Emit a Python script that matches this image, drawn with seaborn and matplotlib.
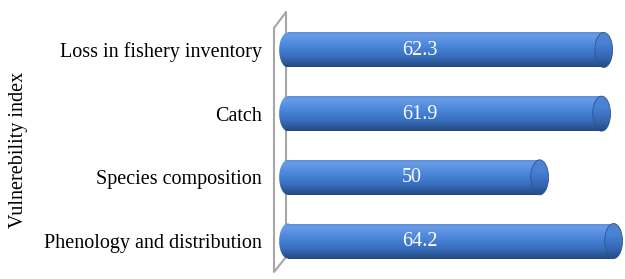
import numpy as np
import pandas as pd
import seaborn as sns
import matplotlib.pyplot as plt
from matplotlib.colors import LinearSegmentedColormap
from matplotlib.patches import Ellipse
from matplotlib.lines import Line2D

sns.set_style("white")
plt.rcParams['font.family'] = ['Liberation Serif', 'DejaVu Serif']
plt.rcParams['text.color'] = 'black'
plt.rcParams['ytick.labelcolor'] = 'black'

categories = ['Loss in fishery inventory', 'Catch', 'Species composition',
              'Phenology and distribution']
values = [62.3, 61.9, 50, 64.2]
value_labels = ['62.3', '61.9', '50', '64.2']
ylabel = 'Vulnerebility index'

df = pd.DataFrame({'factor': categories, 'index': values})

W, H = 625, 279
fig = plt.figure(figsize=(W / 100, H / 100), dpi=100)
ax = fig.add_axes([278 / W, 0, 347 / W, 1])

bar_h = 0.55
sns.barplot(data=df, y='factor', x='index', orient='h', width=bar_h,
            color='#4a86d6', ax=ax)

# cylinder shading, top -> bottom
cyl = LinearSegmentedColormap.from_list(
    'cyl', [(0, '#5b8cd8'), (0.12, '#6a9ce6'), (0.38, '#4d88dc'),
            (0.68, '#3a71c2'), (0.9, '#2b5696'), (1, '#22457a')])
cyl_end = LinearSegmentedColormap.from_list(
    'cyl_end', [(0, '#5284d0'), (0.35, '#4781d4'), (0.72, '#3566b2'),
                (1, '#26497f')])
grad = np.linspace(0, 1, 256).reshape(-1, 1)
cap = 1.7  # half width of the end ellipses, data units


def shade(patch, x0, x1, y0, h, cmap):
    im = ax.imshow(grad, cmap=cmap, aspect='auto', zorder=2,
                   extent=(x0, x1, y0 + h, y0), interpolation='bicubic')
    im.set_clip_path(patch)


for p, v, lab in zip(ax.patches, values, value_labels):
    y0, h = p.get_y(), p.get_height()
    yc = y0 + h / 2
    p.set_width(v - cap)
    p.set_facecolor('none')
    p.set_edgecolor('none')
    shade(p, 0, v, y0, h, cyl)

    left = Ellipse((0, yc), 2 * cap, h, facecolor='none', edgecolor='none',
                   clip_on=False)
    ax.add_patch(left)
    shade(left, -cap, cap, y0, h, cyl)

    right = Ellipse((v - cap, yc), 2 * cap, h, facecolor='none',
                    edgecolor='#2c5592', lw=0.6, zorder=3, clip_on=False)
    ax.add_patch(right)
    shade(right, v - 2 * cap, v, y0, h, cyl_end)

    ax.text(21.9, yc + 0.01, lab, color='white', ha='left', va='center',
            fontsize=14.5, zorder=4)

# the grey 3d wall behind the bars
wall_x = [274, 286, 286, 274, 274]
wall_y = [28, 12, 257, 272, 28]
ax.add_line(Line2D([x / W for x in wall_x], [1 - y / H for y in wall_y],
                   transform=fig.transFigure, color='#a6a6a6', lw=1.5,
                   clip_on=False, zorder=0.5))

ax.set_xlim((278 - 288) / 5.21, (625 - 288) / 5.21)
ax.set_ylim(3 + 38 / 63.7, -50 / 63.7)
ax.set_xticks([])
ax.set_xlabel('')
ax.set_ylabel('')
ax.tick_params(axis='y', length=0, pad=11.5, labelsize=14.5,
               labelcolor='black')
sns.despine(ax=ax, left=True, bottom=True)

fig.text(19 / W, 1 - 150 / H, ylabel, rotation=90, ha='center', va='center',
         fontsize=14.5, color='black')

fig.savefig('out.png', dpi=100)
